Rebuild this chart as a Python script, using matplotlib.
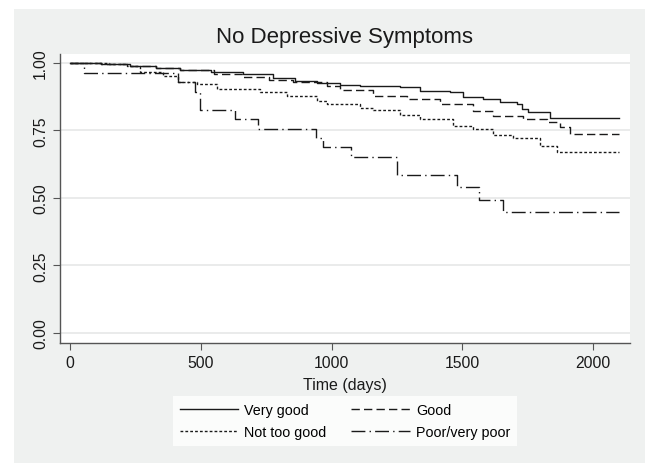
import matplotlib.pyplot as plt
from matplotlib.patches import Rectangle

plt.rcParams['font.family'] = ['Liberation Sans', 'DejaVu Sans']

# Kaplan-Meier estimates (time in days, survival)
t_vgood = [0, 120, 230, 330, 420, 540, 662, 776, 860, 944, 1032, 1109, 1262, 1338, 1453, 1503, 1580, 1644, 1709, 1728, 1751, 1835, 2100]
s_vgood = [1.0, 0.995, 0.99, 0.983, 0.975, 0.968, 0.959, 0.943, 0.933, 0.924, 0.918, 0.916, 0.91, 0.896, 0.891, 0.875, 0.867, 0.857, 0.848, 0.83, 0.817, 0.795, 0.795]

t_good = [0, 120, 230, 330, 420, 550, 662, 760, 853, 982, 1032, 1160, 1288, 1415, 1541, 1618, 1732, 1824, 1874, 1912, 2100]
s_good = [1.0, 0.995, 0.988, 0.98, 0.972, 0.96, 0.947, 0.938, 0.928, 0.913, 0.9, 0.879, 0.867, 0.848, 0.823, 0.805, 0.793, 0.78, 0.762, 0.737, 0.737]

t_ntgood = [0, 150, 217, 268, 357, 414, 484, 561, 726, 829, 944, 982, 1109, 1160, 1262, 1338, 1465, 1541, 1618, 1694, 1797, 1862, 2100]
s_ntgood = [1.0, 0.995, 0.99, 0.965, 0.95, 0.931, 0.922, 0.904, 0.894, 0.879, 0.86, 0.848, 0.832, 0.827, 0.807, 0.793, 0.768, 0.756, 0.733, 0.721, 0.694, 0.672, 0.672]

t_poor = [0, 54, 414, 478, 497, 631, 720, 941, 969, 1073, 1249, 1479, 1565, 1655, 2100]
s_poor = [1.0, 0.963, 0.928, 0.891, 0.826, 0.793, 0.756, 0.721, 0.688, 0.653, 0.585, 0.542, 0.494, 0.449, 0.449]

labels = ['Very good', 'Good', 'Not too good', 'Poor/very poor']
yticks = [0, 0.25, 0.5, 0.75, 1.0]
xticks = [0, 500, 1000, 1500, 2000]

fig = plt.figure(figsize=(6.45, 4.64), dpi=100)
fig.patch.set_facecolor('white')
fig.patches.append(Rectangle((14 / 645, 0), 1, 454 / 464, transform=fig.transFigure,
                             facecolor='#eff1f0', edgecolor='none', zorder=-10))

ax = fig.add_axes([60 / 645, 120 / 464, 570 / 645, 289 / 464])
ax.set_facecolor('white')

lc = '#1a1a1a'
l1, = ax.plot(t_vgood, s_vgood, drawstyle='steps-post', color=lc, lw=1.0, linestyle='-')
l2, = ax.plot(t_good, s_good, drawstyle='steps-post', color=lc, lw=1.0, linestyle=(0, (6, 3)))
l3, = ax.plot(t_ntgood, s_ntgood, drawstyle='steps-post', color=lc, lw=1.0, linestyle=(0, (2, 1.5)))
l4, = ax.plot(t_poor, s_poor, drawstyle='steps-post', color=lc, lw=1.0, linestyle=(0, (10, 3, 1, 3)))

ax.set_xlim(-38, 2141)
ax.set_ylim(-0.037, 1.033)
ax.set_yticks(yticks)
ax.set_yticklabels(['%.2f' % v for v in yticks], rotation=90, va='center')
ax.set_xticks(xticks)
ax.grid(axis='y', color='#e6e8e7', lw=1.2)
ax.set_axisbelow(True)
for s in ['top', 'right']:
    ax.spines[s].set_visible(False)
for s in ['left', 'bottom']:
    ax.spines[s].set_color('#555555')
    ax.spines[s].set_linewidth(1.0)
ax.tick_params(colors='#555555', labelcolor='#1a1a1a', labelsize=11.3, length=5, width=0.8)

ax.set_xlabel('Time (days)', fontsize=11.5, color='#1a1a1a', labelpad=5)
fig.text(344 / 645, 1 - 37 / 464, 'No Depressive Symptoms', ha='center', va='center',
         fontsize=16, color='#1a1a1a')

leg = fig.legend([l1, l3, l2, l4], [labels[0], labels[2], labels[1], labels[3]],
                 ncol=2, loc='center', bbox_to_anchor=(345 / 645, 1 - 422 / 464),
                 frameon=True, fancybox=False, fontsize=10.3, handlelength=4.1,
                 columnspacing=1.75, handletextpad=0.4, borderpad=0.5, labelspacing=0.6)
leg.get_frame().set_facecolor('white')
leg.get_frame().set_edgecolor('none')

fig.savefig('out.png', dpi=100)
